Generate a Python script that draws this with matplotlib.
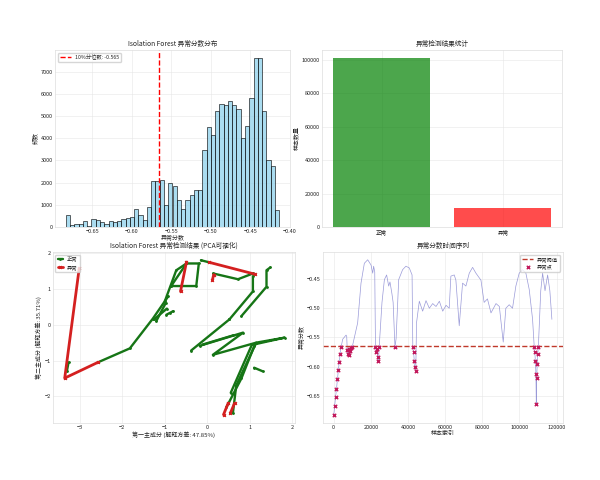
import numpy as np
import matplotlib
matplotlib.use("Agg")
import matplotlib.pyplot as plt

plt.style.use("seaborn-v0_8-whitegrid")
plt.rcParams['font.family'] = ['Noto Sans CJK SC', 'DejaVu Sans']

# ---- data ----
# histogram of anomaly scores (50 bins)
hist_start = -0.6835
hist_width = 0.0054
hist_counts = [550, 90, 150, 120, 280, 60, 370, 310, 210, 120,
               250, 230, 260, 350, 400, 450, 800, 550, 310, 890,
               2080, 2080, 2140, 1000, 1970, 1860, 1210, 830, 1230, 1430,
               1690, 1680, 3480, 4490, 4150, 5230, 5550, 5480, 5690, 5480,
               5320, 4020, 4550, 5800, 7600, 7600, 5250, 3020, 2740, 780]
threshold = -0.565

# result counts
result_labels = ['正常', '异常']
result_counts = [101000, 11200]
result_colors = ['green', 'red']

# PCA trajectories (PC1, PC2)
pca_normal_paths = [
    [(-3.30, -1.30), (-3.26, -1.05)],
    [(-2.57, -1.05), (-1.82, -0.66), (-1.28, 0.17), (-0.92, 0.79)],
    [(-1.20, 0.10), (-0.98, 0.60)],
    [(-1.25, 0.15), (-0.95, 0.45)],
    [(-0.96, 0.28), (-0.88, 0.33), (-0.80, 0.38)],
    [(-1.00, 0.65), (-0.86, 1.10), (-0.73, 1.52), (-0.49, 1.71)],
    [(-0.85, 1.08), (-0.49, 1.71), (-0.20, 1.71), (-0.26, 1.08), (-0.85, 1.08)],
    [(-0.15, 1.80), (0.05, 1.74)],
    [(0.14, 1.43), (0.72, 1.27), (1.07, 1.43)],
    [(1.07, 1.35), (1.07, 0.93), (0.52, 0.15)],
    [(0.80, 0.24), (1.39, 1.06), (1.39, 1.52), (1.48, 1.60)],
    [(0.52, 0.15), (-0.38, -0.72)],
    [(-0.18, -0.59), (0.84, -0.22), (0.13, -0.84), (1.15, -0.50), (1.82, -0.36), (1.10, -0.55)],
    [(-0.10, -0.55), (0.60, -0.30)],
    [(1.15, -0.50), (0.68, -1.69), (0.60, -2.47)],
    [(1.10, -0.60), (0.80, -1.50), (0.45, -2.30)],
    [(1.05, -0.55), (0.55, -1.90)],
    [(1.10, -1.20), (1.30, -1.30)],
]
pca_anomaly_paths = [
    [(-3.01, 1.57), (-3.35, -1.49), (-2.57, -1.05)],
    [(-0.49, 1.75), (-0.63, 0.93)],
    [(0.05, 1.74), (1.12, 1.41)],
    [(0.15, 1.40), (0.12, 1.25)],
    [(0.38, -2.51), (0.49, -2.19)],
    [(0.54, -2.47), (0.64, -2.19)],
]
pc1_var = 47.85
pc2_var = 35.71

# anomaly score over time
ts_index = [0, 500, 1000, 1500, 2000, 2500, 3000, 3500, 3950, 4840,
            6640, 7000, 7300, 7700, 8100, 8500, 9000, 9500, 10000, 12900,
            14700, 16500, 18300, 20100, 21000, 21500, 22100, 22500, 22900, 23300,
            23700, 24100, 24500, 26000, 27300, 28500, 29600, 30300, 31300, 32000,
            33000, 33600, 35000, 37100, 38900, 40700, 42200, 42600, 43000, 43400,
            43800, 44200, 44600, 46100, 47900, 49700, 51500, 53300, 55100, 56900,
            58700, 60500, 62200, 63100, 64900, 65800, 67600, 69400, 71200, 73000,
            74800, 76600, 79300, 81000, 82800, 84700, 87400, 89200, 91300, 92700,
            94500, 96300, 98100, 99900, 101700, 103500, 105300, 107100, 108000, 108300,
            108600, 108900, 109100, 109300, 109600, 109900, 110200, 111500, 112500, 113800,
            115200, 116400, 117500]
ts_score = [-0.683, -0.668, -0.652, -0.638, -0.622, -0.606, -0.592, -0.578, -0.567, -0.553,
            -0.546, -0.548, -0.572, -0.578, -0.570, -0.580, -0.574, -0.568, -0.566, -0.525,
            -0.457, -0.423, -0.417, -0.426, -0.440, -0.428, -0.438, -0.567, -0.575, -0.570,
            -0.584, -0.590, -0.566, -0.490, -0.451, -0.443, -0.462, -0.455, -0.474, -0.490,
            -0.567, -0.552, -0.451, -0.434, -0.428, -0.431, -0.443, -0.567, -0.575, -0.590,
            -0.600, -0.608, -0.525, -0.488, -0.505, -0.487, -0.500, -0.492, -0.497, -0.488,
            -0.505, -0.495, -0.500, -0.445, -0.443, -0.452, -0.530, -0.457, -0.462, -0.440,
            -0.430, -0.440, -0.452, -0.490, -0.484, -0.508, -0.492, -0.497, -0.558, -0.500,
            -0.494, -0.500, -0.462, -0.440, -0.434, -0.440, -0.468, -0.519, -0.567, -0.575,
            -0.590, -0.612, -0.664, -0.620, -0.595, -0.578, -0.567, -0.470, -0.440, -0.470,
            -0.443, -0.470, -0.519]

# ---- figure ----
fs = 4.3
fig = plt.figure(figsize=(6, 4.8), dpi=100)
ax1 = fig.add_axes([0.092, 0.527, 0.391, 0.369])
ax2 = fig.add_axes([0.537, 0.527, 0.400, 0.369])
ax3 = fig.add_axes([0.088, 0.119, 0.403, 0.356])
ax4 = fig.add_axes([0.538, 0.119, 0.400, 0.356])

# 1. histogram
edges = hist_start + hist_width * np.arange(len(hist_counts) + 1)
centers = (edges[:-1] + edges[1:]) / 2
ax1.hist(centers, bins=edges, weights=hist_counts, color='skyblue',
         edgecolor='black', alpha=0.7, linewidth=0.6)
ax1.axvline(threshold, color='red', linestyle='--', linewidth=1,
            label=f'10%分位数: {threshold:.3f}')
ax1.set_title('Isolation Forest 异常分数分布', fontsize=fs + 0.5, pad=3)
ax1.set_xlabel('异常分数', fontsize=fs, labelpad=0.5)
ax1.set_ylabel('频数', fontsize=fs, labelpad=2)
ax1.legend(fontsize=fs - 0.5, loc='upper left', frameon=True)

# 2. result counts
ax2.bar(result_labels, result_counts, color=result_colors, alpha=0.7)
ax2.set_title('异常检测结果统计', fontsize=fs + 0.5, pad=3)
ax2.set_ylabel('样本数量', fontsize=fs, labelpad=2)

# 3. PCA
for i, path in enumerate(pca_normal_paths):
    xs, ys = zip(*path)
    ax3.plot(xs, ys, color='#167516', linewidth=1.7, marker='.', markersize=2,
             label='正常' if i == 0 else None)
for i, path in enumerate(pca_anomaly_paths):
    xs, ys = zip(*path)
    ax3.plot(xs, ys, color='#d42020', linewidth=2.0, marker='x', markersize=2,
             label='异常' if i == 0 else None)
ax3.set_xlim(-3.63, 2.05)
ax3.set_ylim(-2.74, 2.03)
ax3.set_title('Isolation Forest 异常检测结果 (PCA可视化)', fontsize=fs + 0.5, pad=3)
ax3.set_xlabel(f'第一主成分 (解释方差: {pc1_var:.2f}%)', fontsize=fs, labelpad=1)
ax3.set_ylabel(f'第二主成分 (解释方差: {pc2_var:.2f}%)', fontsize=fs, labelpad=2)
ax3.legend(fontsize=fs - 0.5, loc='upper left', frameon=True, handlelength=1)

# 4. time series
ts_index_arr = np.array(ts_index)
ts_score_arr = np.array(ts_score)
anom = ts_score_arr <= threshold + 0.0005
ax4.plot(ts_index_arr, ts_score_arr, color='#6f6fc8', linewidth=0.5, alpha=0.7)
ax4.axhline(threshold, color='#c0392b', linestyle='--', linewidth=1, label='异常阈值')
ax4.scatter(ts_index_arr[anom], ts_score_arr[anom], color='#c2185b', marker='x',
            s=6, linewidths=1, label='异常点', zorder=3)
ax4.set_title('异常分数时间序列', fontsize=fs + 0.5, pad=3)
ax4.set_xlabel('样本索引', fontsize=fs, labelpad=1)
ax4.set_ylabel('异常分数', fontsize=fs, labelpad=2)
ax4.legend(fontsize=fs - 0.5, loc='upper right', frameon=True)

for ax in (ax1, ax2, ax3, ax4):
    ax.tick_params(labelsize=fs - 0.3, pad=1.5, length=0)
    for s in ax.spines.values():
        s.set_linewidth(0.5)
        s.set_color('#dddddd')
    ax.grid(True, linewidth=0.4, color='#e6e6e6')

fig.savefig('out.png', dpi=100)
